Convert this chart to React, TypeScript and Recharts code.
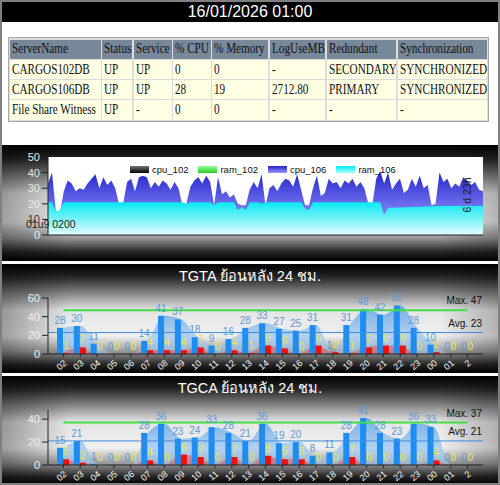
import React from 'react';
import {
  AreaChart,
  Area,
  ComposedChart,
  Bar,
  XAxis,
  YAxis,
  CartesianGrid,
  ReferenceLine,
  LabelList
} from 'recharts';

const STAMP = '16/01/2026 01:00';

const HEADERS = ['ServerName', 'Status', 'Service', '% CPU', '% Memory', 'LogUseMB', 'Redundant', 'Synchronization'];
const SERVER_ROWS = [
  ['CARGOS102DB', 'UP', 'UP', '0', '0', '-', 'SECONDARY', 'SYNCHRONIZED'],
  ['CARGOS106DB', 'UP', 'UP', '28', '19', '2712.80', 'PRIMARY', 'SYNCHRONIZED'],
  ['File Share Witness', 'UP', '-', '0', '0', '-', '-', '-'],
];

// cpu / ram load of the primary over the last week
const CPU_106 = [
  33, 40, 15, 14, 28, 35, 33, 28, 30, 29,
  33, 36, 39, 30, 37, 32, 35, 30, 19, 20,
  34, 36, 28, 37, 38, 37, 30, 34, 31, 35,
  33, 29, 34, 30, 19, 20, 31, 35, 37, 33,
  38, 34, 19, 37, 26, 28, 24, 26, 20, 19,
  19, 29, 34, 30, 39, 19, 30, 32, 28, 33,
  36, 35, 31, 39, 29, 19, 19, 30, 38, 25,
  27, 36, 33, 34, 30, 35, 33, 36, 31, 34,
  30, 20, 19, 36, 41, 33, 40, 29, 33, 36,
  27, 29, 36, 31, 38, 30, 32, 19, 20, 40,
  34, 36, 30, 33, 31, 37, 35, 32, 34, 29, 28,
];
const RAM_106 = [
  21, 21, 15, 16, 21, 21, 21, 21, 21, 21,
  21, 21, 21, 21, 21, 21, 21, 21, 21, 21,
  21, 21, 21, 21, 21, 21, 21, 21, 21, 21,
  21, 21, 21, 21, 21, 20, 21, 21, 21, 21,
  21, 21, 19, 21, 21, 21, 21, 21, 16, 18,
  16, 21, 21, 21, 20, 21, 21, 21, 21, 21,
  21, 21, 21, 21, 21, 17, 16, 21, 21, 21,
  21, 21, 21, 21, 21, 21, 21, 21, 21, 21,
  21, 21, 21, 21, 21, 13, 17.5, 17.4, 17.6, 17.7,
  17.6, 17.9, 18, 18.1, 18, 18.3, 18.4, 18.4, 18.6, 18.5,
  18.7, 18.6, 18.7, 18.6, 18.7, 18.6, 18.7, 18.7, 18.6, 18.7, 18.6,
];
const LOAD_TICKS = [0, 10, 20, 30, 40, 50];
const LOAD_SERIES = ['cpu_102', 'ram_102', 'cpu_106', 'ram_106'];

const HOURS = ['02', '03', '04', '05', '06', '07', '08', '09', '10', '11', '12', '13', '14', '15', '16', '17', '18', '19', '20', '21', '22', '23', '00', '01', '2'];
const TGTA_TOTAL = [28, 30, 11, 0, 0, 14, 41, 37, 18, 9, 16, 28, 33, 27, 25, 31, 1, 31, 48, 42, 52, 28, 10, 0, 0];
const TGTA_ERROR = [1, 7, 0, 0, 0, 4, 4, 4, 7, 0, 4, 1, 9, 6, 0, 9, 2, 1, 7, 9, 9, 0, 2, 0, 0];
const TGCA_TOTAL = [15, 21, 1, 0, 0, 28, 36, 23, 24, 33, 28, 21, 36, 19, 20, 8, 11, 28, 41, 28, 23, 36, 33, 0, 0];
const TGCA_ERROR = [5, 2, 0, 0, 0, 4, 0, 9, 7, 0, 7, 0, 8, 5, 5, 0, 0, 7, 0, 0, 0, 0, 4, 0, 0];

const SANS = 'Arial, "Liberation Sans", sans-serif';
const SERIF = '"Liberation Serif", "Times New Roman", serif';
const SWATCH = ['linear-gradient(#777,#000)', 'linear-gradient(#9f9,#2c2)', 'linear-gradient(#22c,#99f)', 'linear-gradient(#0ee,#aff)'];

const PANEL_BG =
  'linear-gradient(to right, rgba(0,0,0,0.35), rgba(0,0,0,0) 14%, rgba(0,0,0,0) 88%, rgba(0,0,0,0.25)),' +
  'linear-gradient(to bottom, #000 0%, #262626 12%, #8c8c8c 28%, #e4e4e4 42%, #f0f0f0 66%, #9a9a9a 80%, #262626 92%, #000 100%)';

// table geometry
const COL_X = [10, 102.3, 134.3, 173.3, 212.3, 270, 326.7, 397.7];
const COL_W = [91, 30, 37.4, 37.4, 56, 55, 69.3, 89.6];
const ROW_Y = [39.5, 60, 80, 100];
const ROW_H = [19.5, 19, 19, 20];

function Cell({ text, row, col }: { text: string; row: number; col: number }) {
  return (
    <div style={{
      position: 'absolute', left: COL_X[col], top: ROW_Y[row], width: COL_W[col], height: ROW_H[row],
      background: row === 0 ? '#778899' : '#ffffe4', overflow: 'hidden'
    }}>
      <span style={{
        position: 'absolute', left: 2, top: '50%', transform: 'translateY(-50%) scaleX(0.8)',
        transformOrigin: 'left center', whiteSpace: 'nowrap', fontSize: 14, lineHeight: '16px',
        fontFamily: SERIF, color: '#111'
      }}>{text}</span>
    </div>
  );
}

const LoadTick = ({ x, y, payload }: any) => (
  <text x={x} y={y} dy={4} textAnchor="end" fontSize={11} fontFamily={SANS}
    fill={payload.value === 10 ? '#3a3a3a' : '#e8e8e8'}>{payload.value}</text>
);

const HourTick = ({ x, y, payload }: any) => {
  const ax = x + 4;
  const ay = y + 5;
  return (
    <text x={ax} y={ay} textAnchor="end" fontSize={9} fontFamily={SANS} fill="#f4f4f4"
      transform={`rotate(-40 ${ax} ${ay})`}>{payload.value}</text>
  );
};

const SideNote = ({ viewBox, text }: any) => (
  <text x={482} y={viewBox.y - 6} textAnchor="end" fontSize={10} fontFamily={SANS} fill="#111">{text}</text>
);

function HourPanel({ id, title, total, errors, max, avg, yMax, ticks, top, bottom }: any) {
  const rows = HOURS.map((h, i) => ({ h, tot: total[i], err: errors[i] }));
  return (
    <div style={{ position: 'absolute', left: 0, top, width: 500, height: 109, background: PANEL_BG }}>
      <div style={{ position: 'absolute', left: 0, top: 4, width: 500, textAlign: 'center', color: '#fff', fontSize: 14.5, lineHeight: '17px', fontFamily: SANS }}>
        {title}
      </div>
      <div style={{ position: 'absolute', left: 0, top: 0 }}>
        <ComposedChart width={500} height={109} data={rows} margin={{ top: 34, right: 17, left: 18, bottom }} barGap={0}>
          <defs>
            <linearGradient id={`${id}-blue`} x1="0" y1="0" x2="0" y2="1">
              <stop offset="0%" stopColor="#4a9be8" stopOpacity={0.75} />
              <stop offset="100%" stopColor="#a8d0f5" stopOpacity={0.5} />
            </linearGradient>
          </defs>
          <XAxis dataKey="h" height={18} interval={0} padding={{ left: 7, right: 7 }} tick={<HourTick />}
            tickSize={3} tickLine={{ stroke: '#222' }} axisLine={{ stroke: '#222' }} />
          <YAxis domain={[0, yMax]} ticks={ticks} width={30} interval={0} allowDataOverflow
            tick={{ fill: '#eeeeee', fontSize: 11, fontFamily: SANS }} tickLine={{ stroke: '#222' }} axisLine={{ stroke: '#222' }} />
          <Area type="monotone" dataKey="tot" stroke="none" fill={`url(#${id}-blue)`} fillOpacity={1} isAnimationActive={false} />
          <Area type="monotone" dataKey="err" stroke="none" fill="#ff2020" fillOpacity={0.35} isAnimationActive={false} />
          <ReferenceLine y={avg} stroke="#3d8fe0" strokeWidth={1} label={<SideNote text={`Avg. ${avg}`} />} />
          <ReferenceLine segment={[{ x: HOURS[0], y: max }, { x: HOURS[HOURS.length - 1], y: max }]}
            stroke="#44dd44" strokeWidth={2} label={<SideNote text={`Max. ${max}`} />} />
          <Bar dataKey="tot" fill="#1e8cf0" barSize={6} minPointSize={0.1} isAnimationActive={false}>
            <LabelList dataKey="tot" position="top" offset={4} fill="#5b9ad8" fontSize={10} fontFamily={SANS} />
          </Bar>
          <Bar dataKey="err" fill="#ee1010" barSize={6} minPointSize={0.1} isAnimationActive={false}>
            <LabelList dataKey="err" position="top" offset={4} fill="#e8e84a" fontSize={10} fontFamily={SANS} />
          </Bar>
        </ComposedChart>
      </div>
    </div>
  );
}

export default function App() {
  const loadRows = CPU_106.map((cpu, i) => ({ i, cpu, ram: RAM_106[i] }));

  return (
    <div style={{ position: 'fixed', left: 0, top: 0, width: 500, height: 485, background: '#fff', overflow: 'hidden', fontFamily: SANS }}>
      {/* header */}
      <div style={{ position: 'absolute', left: 0, top: 1, width: 500, height: 21, background: '#000', color: '#fff', textAlign: 'center', fontSize: 16, lineHeight: '21px' }}>
        {STAMP}
      </div>

      {/* server status table */}
      <div style={{ position: 'absolute', left: 8, top: 37, width: 481, height: 85, background: '#dcdcdc', border: '1px solid #a8a8a8', boxSizing: 'border-box' }} />
      {HEADERS.map((h, c) => <Cell key={`h-${c}`} text={h} row={0} col={c} />)}
      {SERVER_ROWS.map((r, ri) => r.map((t, c) => <Cell key={`c-${ri}-${c}`} text={t} row={ri + 1} col={c} />))}

      {/* load over time */}
      <div style={{ position: 'absolute', left: 0, top: 145, width: 500, height: 116, background: PANEL_BG }}>
        <AreaChart width={500} height={116} data={loadRows} margin={{ top: 12, right: 17, left: 18, bottom: 25 }}>
          <defs>
            <linearGradient id="cpuFill" x1="0" y1="0" x2="0" y2="1">
              <stop offset="0%" stopColor="#2424cc" />
              <stop offset="55%" stopColor="#7070ee" />
              <stop offset="100%" stopColor="#a0a0ff" />
            </linearGradient>
            <linearGradient id="ramFill" x1="0" y1="0" x2="0" y2="1">
              <stop offset="0%" stopColor="#08e8f2" />
              <stop offset="100%" stopColor="#e4fdff" />
            </linearGradient>
          </defs>
          <CartesianGrid horizontal={false} vertical={false} fill="#fff" />
          <XAxis dataKey="i" tick={false} tickLine={false} axisLine={{ stroke: '#222' }} height={1} />
          <YAxis domain={[0, 50]} ticks={LOAD_TICKS} width={30} interval={0} tick={<LoadTick />}
            tickLine={{ stroke: '#222' }} axisLine={{ stroke: '#222' }} />
          <Area type="linear" dataKey="cpu" stroke="none" fill="url(#cpuFill)" fillOpacity={1} isAnimationActive={false} />
          <Area type="linear" dataKey="ram" stroke="none" fill="url(#ramFill)" fillOpacity={1} isAnimationActive={false} />
        </AreaChart>
        <div style={{ position: 'absolute', left: 130, top: 19, display: 'flex', alignItems: 'center', fontSize: 9.5, color: '#111' }}>
          {LOAD_SERIES.map((s, i) => (
            <div key={s} style={{ display: 'flex', alignItems: 'center', marginRight: 10 }}>
              <div style={{ width: 19, height: 7, background: SWATCH[i], marginRight: 3 }} />
              <span>{s}</span>
            </div>
          ))}
        </div>
        <div style={{ position: 'absolute', left: 26, top: 73, fontSize: 10.5, color: '#222' }}>01u9 0200</div>
        <div style={{ position: 'absolute', left: 467, top: 50, fontSize: 10.5, color: '#222', whiteSpace: 'nowrap', transform: 'translate(-50%, -50%) rotate(-90deg)' }}>6 d 23h</div>
      </div>

      <HourPanel id="tgta" title="TGTA ย้อนหลัง 24 ชม." total={TGTA_TOTAL} errors={TGTA_ERROR}
        max={47} avg={23} yMax={60} ticks={[0, 20, 40, 60]} top={264} bottom={1} />
      <HourPanel id="tgca" title="TGCA ย้อนหลัง 24 ชม." total={TGCA_TOTAL} errors={TGCA_ERROR}
        max={37} avg={21} yMax={48} ticks={[0, 20, 40]} top={376} bottom={2} />

      {/* outer frame */}
      <div style={{ position: 'absolute', left: 0, top: 0, width: 500, height: 485, border: '2px solid #808080', boxSizing: 'border-box', pointerEvents: 'none' }} />
    </div>
  );
}
